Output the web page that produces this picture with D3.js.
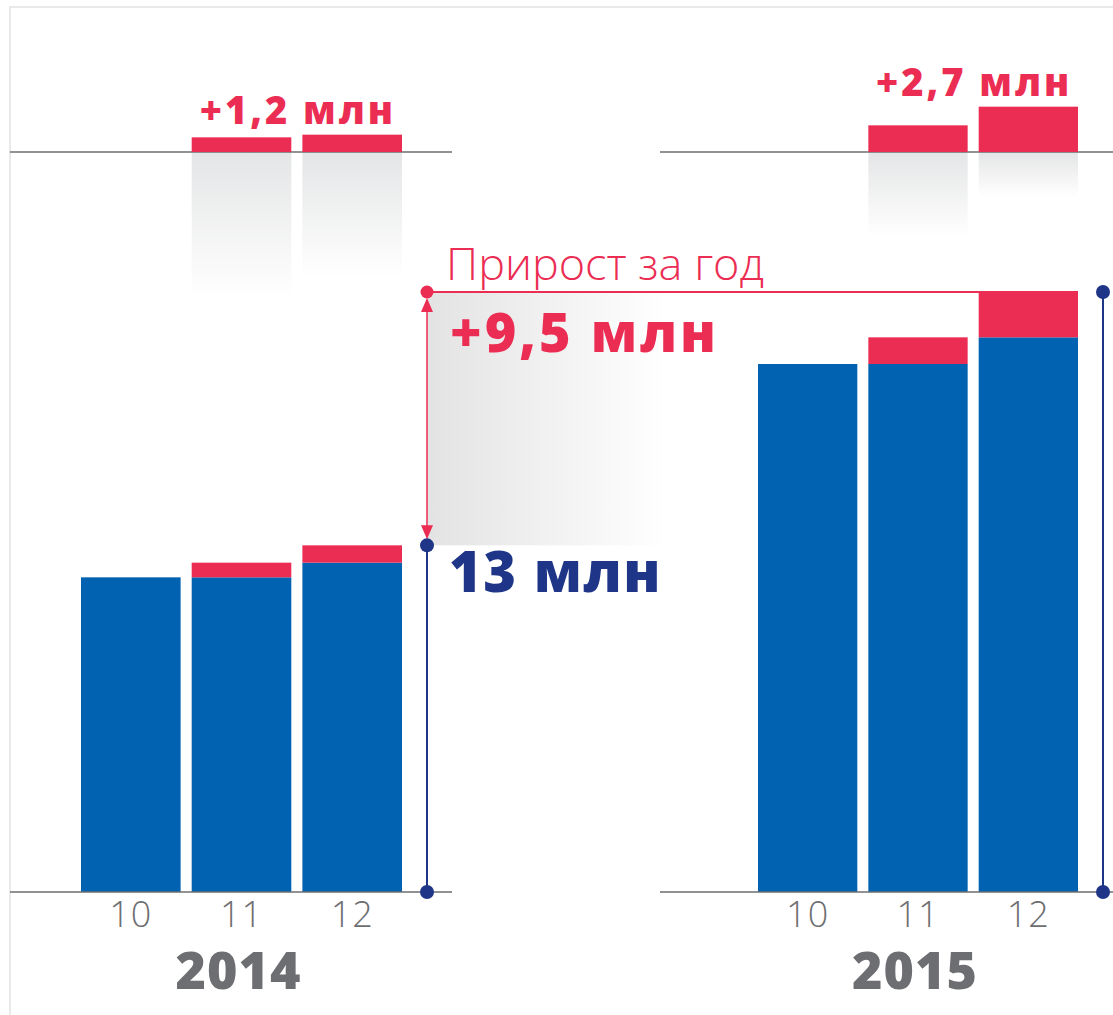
<!DOCTYPE html>
<html>
<head>
<meta charset="utf-8">
<script src="https://cdn.jsdelivr.net/npm/d3@7"></script>
<style>
  body { margin: 0; background: #fff; }
  svg { display: block; }
  text { font-family: "Open Sans", "Noto Sans", sans-serif; }
</style>
</head>
<body>
<svg width="1113" height="1015"></svg>
<script>
// --- data (million subscribers, end of month) ---
var months = ["10", "11", "12"];
var years = ["2014", "2015"];
var totals2014 = [11.8, 12.35, 13.0];
var totals2015 = [19.8, 20.8, 22.5];
var gainLabels = ["+1,2 млн", "+2,7 млн"];
var yearGainLabel = "+9,5 млн";
var startLabel = "13 млн";
var yearGainTitle = "Прирост за год";

var RED = "#ec2d53", BLUE = "#0062b0", NAVY = "#1f3588", GREY = "#6d6e71";

var svg = d3.select("svg");
var defs = svg.append("defs");

var vg = defs.append("linearGradient").attr("id", "fadeDown")
    .attr("x1", 0).attr("y1", 0).attr("x2", 0).attr("y2", 1);
vg.append("stop").attr("offset", 0).attr("stop-color", "#e4e5e6");
vg.append("stop").attr("offset", 1).attr("stop-color", "#fff");

var hg = defs.append("linearGradient").attr("id", "fadeRight")
    .attr("x1", 0).attr("y1", 0).attr("x2", 1).attr("y2", 0);
hg.append("stop").attr("offset", 0).attr("stop-color", "#e3e3e4");
hg.append("stop").attr("offset", 1).attr("stop-color", "#fff");

// frame
svg.append("path").attr("d", "M10,1015V7H1113")
    .attr("fill", "none").attr("stroke", "#e9e9e9").attr("stroke-width", 2);

var baseY = 892, topBase = 152;
var y = d3.scaleLinear().domain([0, 22.5]).range([baseY, 292]);
var unit = baseY - y(1);
var yTop = d3.scaleLinear().domain([0, 1]).range([topBase, topBase - unit]);

function toRows(totals) {
  return totals.map(function(t, i) {
    var gain = i === 0 ? 0 : t - totals[i - 1];
    return { month: months[i], total: t, gain: gain, base: t - gain };
  });
}

var panels = [
  { year: years[0], rows: toRows(totals2014), range: [81, 402], line: [10, 452], reflect: [0, 145, 125], label: gainLabels[0] },
  { year: years[1], rows: toRows(totals2015), range: [758, 1078], line: [660, 1113], reflect: [0, 85, 45], label: gainLabels[1] }
];

panels.forEach(function(p) {
  var x = d3.scaleBand().domain(months).range(p.range).paddingInner(0.1);
  p.x = x;
  var g = svg.append("g");

  // reflections under the small bars
  g.selectAll(".refl").data(p.rows.filter(function(d) { return d.gain > 0; }))
    .enter().append("rect")
    .attr("x", function(d) { return x(d.month); })
    .attr("y", topBase)
    .attr("width", x.bandwidth())
    .attr("height", function(d) { return p.reflect[months.indexOf(d.month)]; })
    .attr("fill", "url(#fadeDown)");

  // top baselines
  g.append("line").attr("x1", p.line[0]).attr("x2", p.line[1])
    .attr("y1", topBase).attr("y2", topBase)
    .attr("stroke", "#6d6e71").attr("stroke-width", 1.5);

  // small monthly gain bars
  g.selectAll(".gain").data(p.rows.filter(function(d) { return d.gain > 0; }))
    .enter().append("rect")
    .attr("x", function(d) { return x(d.month); })
    .attr("y", function(d) { return yTop(d.gain); })
    .attr("width", x.bandwidth())
    .attr("height", function(d) { return topBase - yTop(d.gain); })
    .attr("fill", RED);

  var maxGain = d3.max(p.rows, function(d) { return d.gain; });
  g.append("text")
    .attr("x", (x("11") + x("12") + x.bandwidth()) / 2 + 1)
    .attr("y", yTop(maxGain) - 11)
    .attr("text-anchor", "middle")
    .attr("font-size", 38).attr("font-weight", 800)
    .attr("letter-spacing", 3)
    .attr("fill", RED)
    .text(p.label);

  // main bars: blue base + red gain
  g.selectAll(".bar").data(p.rows).enter().append("rect")
    .attr("x", function(d) { return x(d.month); })
    .attr("y", function(d) { return y(d.base); })
    .attr("width", x.bandwidth())
    .attr("height", function(d) { return baseY - y(d.base); })
    .attr("fill", BLUE);
  g.selectAll(".barGain").data(p.rows.filter(function(d) { return d.gain > 0; }))
    .enter().append("rect")
    .attr("x", function(d) { return x(d.month); })
    .attr("y", function(d) { return y(d.total); })
    .attr("width", x.bandwidth())
    .attr("height", function(d) { return y(d.base) - y(d.total); })
    .attr("fill", RED);

  g.append("line").attr("x1", p.line[0]).attr("x2", p.line[1])
    .attr("y1", baseY).attr("y2", baseY)
    .attr("stroke", "#6d6e71").attr("stroke-width", 1.5);

  var ax = g.append("g").attr("transform", "translate(0," + baseY + ")")
    .call(d3.axisBottom(x).tickSize(0).tickPadding(9));
  ax.select(".domain").remove();
  ax.selectAll("text")
    .attr("font-family", "'Open Sans', sans-serif")
    .attr("font-size", 36).attr("font-weight", 300)
    .attr("letter-spacing", 1)
    .attr("fill", GREY);

  g.append("text")
    .attr("x", x("11") + x.bandwidth() / 2 - 3)
    .attr("y", 989)
    .attr("text-anchor", "middle")
    .attr("font-size", 52).attr("font-weight", 800)
    .attr("letter-spacing", 1)
    .attr("fill", GREY)
    .text(p.year);
});

// year-over-year annotation
var left = panels[0], right = panels[1];
var startV = d3.max(left.rows, function(d) { return d.total; });
var endV = d3.max(right.rows, function(d) { return d.total; });
var ax1 = 427, ax2 = 1103;
var rightEdge = right.x("12") + right.x.bandwidth();

svg.append("rect").attr("x", ax1).attr("y", y(endV))
  .attr("width", 240).attr("height", y(startV) - y(endV))
  .attr("fill", "url(#fadeRight)");

svg.append("line").attr("x1", ax1).attr("x2", rightEdge)
  .attr("y1", y(endV)).attr("y2", y(endV))
  .attr("stroke", RED).attr("stroke-width", 2);
svg.append("line").attr("x1", ax1).attr("x2", ax1)
  .attr("y1", y(endV) + 8).attr("y2", y(startV) - 8)
  .attr("stroke", RED).attr("stroke-width", 1.5);
svg.append("path")
  .attr("d", "M" + ax1 + "," + (y(endV) + 6) + "l-6,14h12z")
  .attr("fill", RED);
svg.append("path")
  .attr("d", "M" + ax1 + "," + (y(startV) - 6) + "l-6,-14h12z")
  .attr("fill", RED);
svg.append("circle").attr("cx", ax1).attr("cy", y(endV)).attr("r", 6.5).attr("fill", RED);

// navy level markers
[[ax1, startV], [ax2, endV]].forEach(function(m) {
  svg.append("line").attr("x1", m[0]).attr("x2", m[0])
    .attr("y1", y(m[1])).attr("y2", baseY)
    .attr("stroke", NAVY).attr("stroke-width", 2);
  svg.append("circle").attr("cx", m[0]).attr("cy", y(m[1])).attr("r", 7).attr("fill", NAVY);
  svg.append("circle").attr("cx", m[0]).attr("cy", baseY).attr("r", 7).attr("fill", NAVY);
});

svg.append("text").attr("x", 446).attr("y", 280)
  .attr("font-size", 45).attr("font-weight", 300)
  .attr("fill", RED).text(yearGainTitle);
svg.append("text").attr("x", 450).attr("y", 352)
  .attr("font-size", 54).attr("font-weight", 800)
  .attr("letter-spacing", 3)
  .attr("fill", RED).text(yearGainLabel);
svg.append("text").attr("x", 449).attr("y", 592)
  .attr("font-size", 56).attr("font-weight", 800)
  .attr("letter-spacing", 1.5)
  .attr("fill", NAVY).text(startLabel);
</script>
</body>
</html>
